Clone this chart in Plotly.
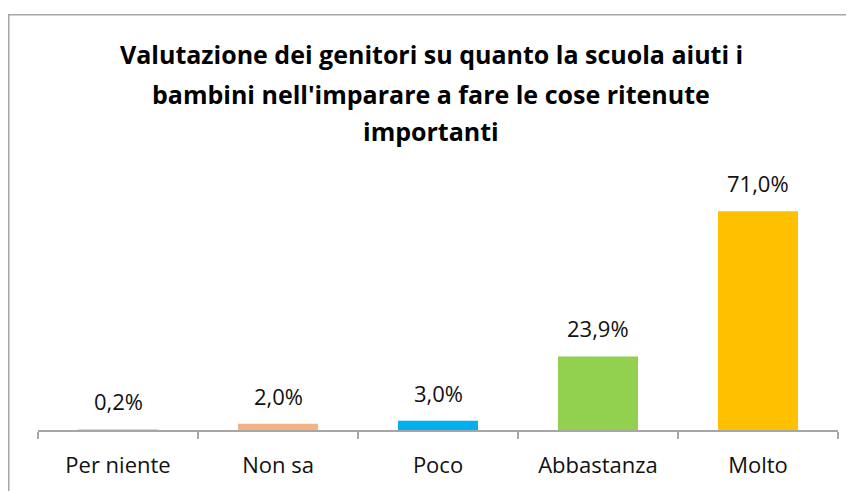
import plotly.graph_objects as go

categories = ["Per niente", "Non sa", "Poco", "Abbastanza", "Molto"]
values = [0.2, 2.0, 3.0, 23.9, 71.0]
colors = ["#D9D9D9", "#F4B183", "#00B0F0", "#92D050", "#FFC000"]
labels = [f"{v:.1f}%".replace(".", ",") for v in values]

title_lines = ["Valutazione dei genitori su quanto la scuola aiuti i",
               "bambini nell'imparare a fare le cose ritenute",
               "importanti"]

# page is offset by the 8px body margin: figure pixel = reference pixel - 8
OFF = 8
W, H = 854 - OFF, 491 - OFF
L, R = 38 - OFF, 16
AXIS_Y = 432 - OFF
B = H - AXIS_Y
T = 198.5 - OFF
FONT = "Open Sans, Lato, sans-serif"

fig = go.Figure(go.Bar(
    x=categories, y=values, marker_color=colors, marker_line_width=0,
    cliponaxis=False, hoverinfo="x+y",
))

pw, ph = W - L - R, H - T - B
def px_x(p):
    return (p - OFF - L) / pw
def px_y(p):
    return (H - B - (p - OFF)) / ph

annotations = []
# data labels placed above each bar through the axes
for cat, val, lab in zip(categories, values, labels):
    annotations.append(dict(text=lab, x=cat, y=val, xref="x", yref="y",
                            xanchor="center", yanchor="middle", yshift=28,
                            showarrow=False, font=dict(family=FONT, size=22, color="#111111")))
for line, yc in zip(title_lines, [52, 92, 130]):
    annotations.append(dict(text="<b>" + line + "</b>", xref="paper", yref="paper",
                            x=px_x(431), y=px_y(yc), xanchor="center", yanchor="middle",
                            showarrow=False, font=dict(family=FONT, size=25, color="#000000")))
# chart border (extends past the right and bottom edges of the window)
annotations.append(dict(text="", xref="paper", yref="paper", x=px_x(8), y=px_y(12),
                        xanchor="left", yanchor="top", showarrow=False,
                        width=870, height=500, bordercolor="#A6A6A6", borderwidth=1.5,
                        borderpad=0))

fig.update_layout(
    width=W, height=H,
    margin=dict(l=L, r=R, t=T, b=B, pad=0),
    paper_bgcolor="white", plot_bgcolor="white",
    bargap=0.5, showlegend=False,
    xaxis=dict(showline=True, linecolor="#A6A6A6", linewidth=1.5, ticks="outside",
               tickson="boundaries", ticklen=7, tickcolor="#A6A6A6", tickwidth=1.5,
               tickfont=dict(family=FONT, size=22, color="#111111"),
               ticklabelstandoff=15, showgrid=False),
    yaxis=dict(range=[0, 75], visible=False, showgrid=False),
    annotations=annotations,
)

fig.write_html("out.html")
